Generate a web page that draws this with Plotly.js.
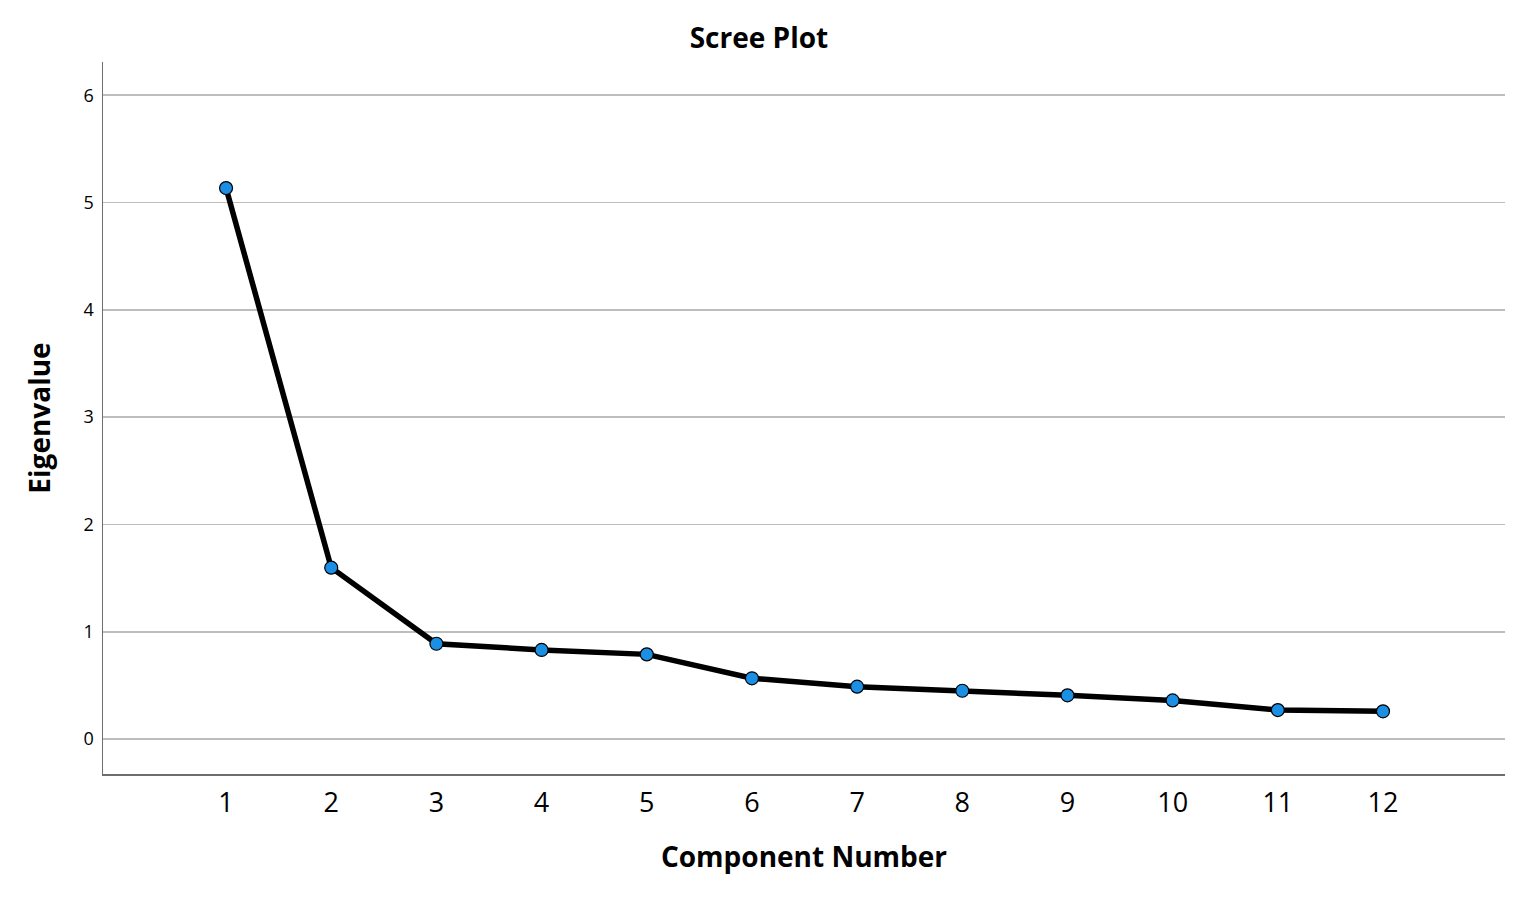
<!DOCTYPE html>
<html>
<head>
<meta charset="utf-8">
<script src="https://cdn.plot.ly/plotly-3.0.1.min.js"></script>
<style>html,body{margin:0;padding:0;background:#fff;}#chart{width:1524px;height:898px;}</style>
</head>
<body>
<div id="chart"></div>
<script>
const componentNumbers = [1, 2, 3, 4, 5, 6, 7, 8, 9, 10, 11, 12];
const eigenvalues = [5.135, 1.597, 0.888, 0.83, 0.789, 0.566, 0.488, 0.45, 0.407, 0.36, 0.27, 0.258];
const yTickValues = [0, 1, 2, 3, 4, 5, 6];

const FONT = '"Open Sans", "Noto Sans", sans-serif';

const trace = {
  x: componentNumbers,
  y: eigenvalues,
  type: 'scatter',
  mode: 'lines+markers',
  line: {color: '#000000', width: 5.5},
  marker: {size: 13, color: '#1a8fe3', line: {color: '#000000', width: 1.2}},
  hoverinfo: 'x+y'
};

const layout = {
  width: 1524,
  height: 898,
  paper_bgcolor: '#ffffff',
  plot_bgcolor: '#ffffff',
  margin: {l: 103, r: 19, t: 62, b: 124},
  showlegend: false,
  title: {
    text: '<b>Scree Plot</b>',
    font: {family: FONT, size: 28, color: '#000'},
    x: 0.498, xref: 'container', xanchor: 'center',
    y: 1 - 38/898, yref: 'container', yanchor: 'middle'
  },
  xaxis: {
    range: [-0.17, 13.16],
    tickmode: 'array',
    tickvals: componentNumbers,
    ticktext: componentNumbers.map(String),
    showgrid: false,
    zeroline: false,
    showline: true,
    linecolor: '#6e6e6e',
    linewidth: 1.5,
    ticks: '',
    ticklabelstandoff: 4,
    tickfont: {family: FONT, size: 27, color: '#000'},
    title: {text: '<b>Component Number</b>', font: {family: FONT, size: 28, color: '#000'}, standoff: 28}
  },
  yaxis: {
    range: [-0.326, 6.31],
    tickmode: 'array',
    tickvals: yTickValues,
    ticktext: yTickValues.map(String),
    showgrid: true,
    gridcolor: '#bdbdbd',
    gridwidth: 1.6,
    zeroline: false,
    showline: true,
    linecolor: '#6e6e6e',
    linewidth: 1.5,
    ticks: '',
    ticklabelstandoff: 4,
    tickfont: {family: FONT, size: 18, color: '#000'},
    title: {text: '<b>Eigenvalue</b>', font: {family: FONT, size: 28, color: '#000'}, standoff: 25}
  }
};

Plotly.newPlot('chart', [trace], layout, {displayModeBar: false, staticPlot: true});
</script>
</body>
</html>
